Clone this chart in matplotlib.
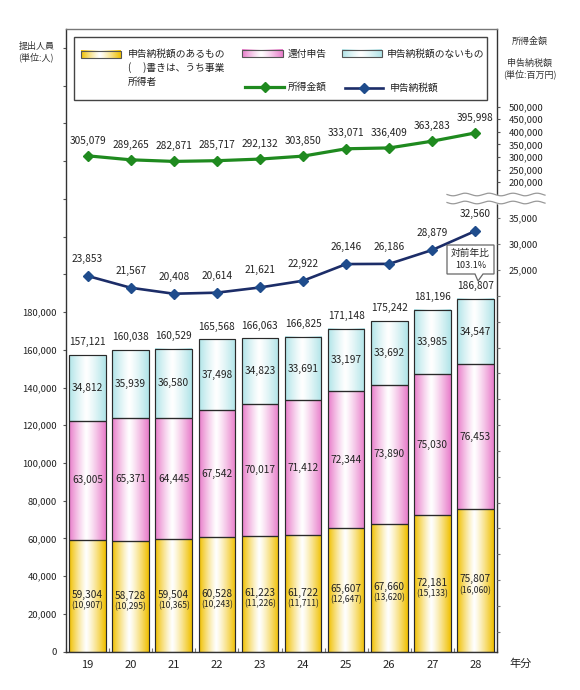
import numpy as np
import matplotlib
matplotlib.use('Agg')
import matplotlib.pyplot as plt
from matplotlib.patches import Rectangle, Polygon
from matplotlib.ticker import FuncFormatter
from matplotlib.lines import Line2D

plt.rcParams['font.family'] = ['Noto Sans CJK JP', 'DejaVu Sans']

# ---------------- data ----------------
years = ['19', '20', '21', '22', '23', '24', '25', '26', '27', '28']
with_tax = [59304, 58728, 59504, 60528, 61223, 61722, 65607, 67660, 72181, 75807]
business = [10907, 10295, 10365, 10243, 11226, 11711, 12647, 13620, 15133, 16060]
refund = [63005, 65371, 64445, 67542, 70017, 71412, 72344, 73890, 75030, 76453]
no_tax = [34812, 35939, 36580, 37498, 34823, 33691, 33197, 33692, 33985, 34547]
totals = [157121, 160038, 160529, 165568, 166063, 166825, 171148, 175242, 181196, 186807]
income = [305079, 289265, 282871, 285717, 292132, 303850, 333071, 336409, 363283, 395998]
tax = [23853, 21567, 20408, 20614, 21621, 22922, 26146, 26186, 28879, 32560]
yoy_title = '対前年比'
yoy_value = '103.1%'

legend_labels = ['申告納税額のあるもの\n(　 )書きは、うち事業\n所得者', '還付申告', '申告納税額のないもの',
                 '所得金額', '申告納税額']

# ---------------- style ----------------
W, H = 580, 690
YEL = np.array([240, 192, 0]) / 255
PNK = np.array([232, 124, 202]) / 255
CYN = np.array([176, 228, 232]) / 255
GREEN = '#1f8a1f'
NAVY_LINE = '#1c2d68'
NAVY_MK = '#1f4c8c'
EDGE = '#2a2a2a'


def grad(edge, n=80):
    t = np.linspace(0, 1, n)
    w = np.abs((t - 0.47) / np.where(t < 0.47, 0.47, 0.53)) ** 1.2
    w = np.clip(w, 0, 1)
    img = 1 - (1 - edge)[None, :] * w[:, None]
    return img[None, :, :]


fig = plt.figure(figsize=(W / 100, H / 100), dpi=100)


def fx(px):
    return px / W


def fy(py):
    return 1 - py / H


ax = fig.add_axes([fx(66), fy(651.7), fx(497) - fx(66), fy(29) - fy(651.7)])
x = np.arange(len(years))
XL = (-0.5, len(years) - 0.5)
YL = (0, 330000)

bw = 0.85
bottoms2 = np.array(with_tax)
bottoms3 = np.array(with_tax) + np.array(refund)
cont1 = ax.bar(x, with_tax, width=bw, facecolor='none', edgecolor=EDGE, lw=0.85, zorder=3)
cont2 = ax.bar(x, refund, bottom=bottoms2, width=bw, facecolor='none', edgecolor=EDGE, lw=0.85, zorder=3)
cont3 = ax.bar(x, no_tax, bottom=bottoms3, width=bw, facecolor='none', edgecolor=EDGE, lw=0.85, zorder=3)
for cont, col in ((cont1, YEL), (cont2, PNK), (cont3, CYN)):
    g = grad(col)
    for r in cont:
        x0, y0, w_, h_ = r.get_x(), r.get_y(), r.get_width(), r.get_height()
        ax.imshow(g, extent=(x0, x0 + w_, y0, y0 + h_), aspect='auto',
                  interpolation='bilinear', zorder=2)
ax.set_xlim(*XL)
ax.set_ylim(*YL)

# segment labels
for i in range(len(years)):
    ax.annotate(f'{with_tax[i]:,}', (x[i], with_tax[i] / 2), xytext=(0, 0.5),
                textcoords='offset points', ha='center', va='center', fontsize=7.3, color='#222', zorder=5)
    ax.annotate(f'({business[i]:,})', (x[i], with_tax[i] / 2), xytext=(0, -7.3),
                textcoords='offset points', ha='center', va='center', fontsize=6.2, color='#222', zorder=5)
    ax.annotate(f'{refund[i]:,}', (x[i], bottoms2[i] + refund[i] / 2), xytext=(0, 0),
                textcoords='offset points', ha='center', va='center', fontsize=7.3, color='#222', zorder=5)
    ax.annotate(f'{no_tax[i]:,}', (x[i], bottoms3[i] + no_tax[i] / 2), xytext=(0, 0),
                textcoords='offset points', ha='center', va='center', fontsize=7.3, color='#222', zorder=5)
    ax.annotate(f'{totals[i]:,}', (x[i], totals[i]), xytext=(0, 9.2),
                textcoords='offset points', ha='center', va='center', fontsize=7.3, color='#222', zorder=5)

# left axis
ax.set_yticks(np.arange(0, 330001, 20000))
ax.yaxis.set_major_formatter(FuncFormatter(lambda v, p: f'{int(v):,}' if v <= 180000 else ''))
ax.yaxis.tick_left()
ax.tick_params(axis='y', direction='out', length=2.5, width=0.8, color='#555',
               labelsize=6.8, pad=4, labelcolor='#222')
ax.set_xticks(x, years)
ax.set_xticks(np.arange(-0.5, len(years), 1), minor=True)
ax.tick_params(axis='x', which='major', length=0, pad=6, labelsize=8, labelcolor='#222')
ax.tick_params(axis='x', which='minor', direction='in', length=3, width=0.8, color='#777')
for s in ax.spines.values():
    s.set_color('#333')
    s.set_linewidth(1.0)
ax.spines['top'].set_color('#777')

# income line (upper right scale)
ax2 = ax.twinx()
ax2.set_xlim(*XL)
ax2.set_ylim(-1662700, 808300)
ax2.plot(x, income, color=GREEN, lw=2.3, marker='D', ms=5.2, mfc=GREEN, mec=GREEN, zorder=4)
for i in range(len(years)):
    ax2.annotate(f'{income[i]:,}', (x[i], income[i]), xytext=(0, 11),
                 textcoords='offset points', ha='center', va='center', fontsize=7.3, color='#222')
ax2.set_yticks(np.arange(200000, 500001, 50000))
ax2.yaxis.set_major_formatter(FuncFormatter(lambda v, p: f'{int(v):,}'))
ax2.tick_params(axis='y', direction='out', length=2.5, width=0.8, color='#555',
                labelsize=6.8, pad=6, labelcolor='#222')
for s in ax2.spines.values():
    s.set_visible(False)

# tax line (lower right scale)
ax3 = ax.twinx()
ax3.set_xlim(*XL)
ax3.set_ylim(-48830, 71615)
ax3.plot(x, tax, color=NAVY_LINE, lw=1.9, marker='D', ms=5.2, mfc=NAVY_MK, mec=NAVY_MK, zorder=4)
for i in range(len(years)):
    ax3.annotate(f'{tax[i]:,}', (x[i], tax[i]), xytext=(0, 12.3),
                 textcoords='offset points', ha='center', va='center', fontsize=7.3, color='#222')
ax3.set_yticks(np.arange(-45000, 35001, 5000))
ax3.yaxis.set_major_formatter(FuncFormatter(lambda v, p: f'{int(v):,}' if v >= 25000 else ''))
ax3.tick_params(axis='y', direction='out', length=2.5, width=0.8, color='#777',
                labelsize=6.8, pad=6, labelcolor='#222')
for s in ax3.spines.values():
    s.set_visible(False)

# ---------------- overlay (pixel coords) ----------------
ov = fig.add_axes([0, 0, 1, 1], zorder=10)
ov.set_xlim(0, W)
ov.set_ylim(H, 0)
ov.axis('off')
ov.patch.set_alpha(0)

# axis break
xs = np.linspace(447, 545, 200)
wv = 1.3 * np.sin((xs - 447) / 24 * 2 * np.pi)
ov.fill_between(xs, 194.5 + wv, 202.5 + wv, color='white', zorder=1)
ov.plot(xs, 194.5 + wv, color='#999', lw=0.9, zorder=2)
ov.plot(xs, 202.5 + wv, color='#999', lw=0.9, zorder=2)

# legend box
ov.add_patch(Rectangle((74, 37), 413, 63, facecolor='white', edgecolor='#444', lw=1.0, zorder=3))
patches = [((81, 121, 54.5), YEL), ((242, 283, 53.5), PNK), ((342, 382, 53.5), CYN)]
for (l, r, yc), col in patches:
    ov.imshow(grad(col), extent=(l, r, yc + 3.7, yc - 3.7), aspect='auto',
              interpolation='bilinear', zorder=4)
    ov.add_patch(Rectangle((l, yc - 3.7), r - l, 7.4, facecolor='none', edgecolor='#555', lw=0.8, zorder=5))
ov.set_xlim(0, W)
ov.set_ylim(H, 0)
ov.text(128, 48.5, legend_labels[0], ha='left', va='top', fontsize=7, color='#222',
        linespacing=1.45, zorder=6)
ov.text(288, 53.5, legend_labels[1], ha='left', va='center', fontsize=7, color='#222', zorder=6)
ov.text(387, 53.5, legend_labels[2], ha='left', va='center', fontsize=7, color='#222', zorder=6)
ov.add_line(Line2D([245, 284], [86.5, 86.5], color=GREEN, lw=2.3, zorder=6))
ov.plot([264.5], [86.5], marker='D', ms=5.2, color=GREEN, zorder=7)
ov.text(288, 86.5, legend_labels[3], ha='left', va='center', fontsize=7, color='#222', zorder=6)
ov.add_line(Line2D([345, 383], [87.5, 87.5], color=NAVY_LINE, lw=1.9, zorder=6))
ov.plot([364], [87.5], marker='D', ms=5.2, color=NAVY_MK, zorder=7)
ov.text(390, 87.5, legend_labels[4], ha='left', va='center', fontsize=7, color='#222', zorder=6)

# axis titles
ov.text(37, 46, '提出人員', ha='center', va='center', fontsize=6.5, color='#333')
ov.text(36, 57, '(単位:人)', ha='center', va='center', fontsize=6.5, color='#333')
ov.text(530, 41, '所得金額', ha='center', va='center', fontsize=6.5, color='#333')
ov.text(530, 63, '申告納税額', ha='center', va='center', fontsize=6.5, color='#333')
ov.text(530, 74, '(単位:百万円)', ha='center', va='center', fontsize=6.5, color='#333')
ov.text(521, 664, '年分', ha='center', va='center', fontsize=8, color='#222')

# callout
ov.add_patch(Polygon([(447, 245), (494, 245), (494, 274), (483, 274), (478, 281),
                      (475, 274), (447, 274)], closed=True, facecolor='white',
                     edgecolor='#666', lw=0.9, zorder=3))
ov.text(470.5, 253, yoy_title, ha='center', va='center', fontsize=7, color='#222', zorder=4)
ov.text(470.5, 266, yoy_value, ha='center', va='center', fontsize=6.5, color='#222', zorder=4)

fig.savefig('out.png', dpi=100)
